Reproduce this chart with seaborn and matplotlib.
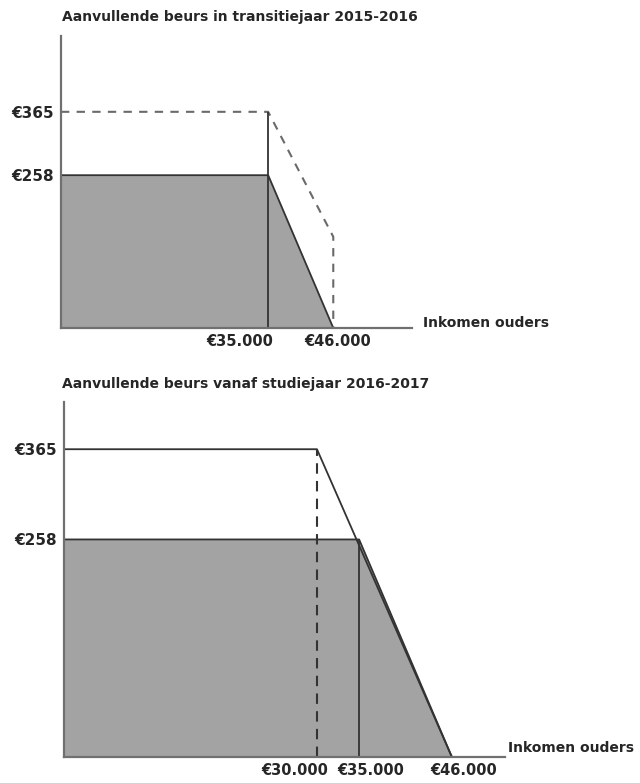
import matplotlib
matplotlib.use("Agg")
import matplotlib.pyplot as plt
import matplotlib.transforms as mtrans
import seaborn as sns

sns.set_theme(style="white")
plt.rcParams['font.family'] = ['DejaVu Sans']

# Panel 1: transitiejaar 2015-2016
titel_1 = "Aanvullende beurs in transitiejaar 2015-2016"
inkomen_1 = [0, 35000, 46000]
beurs_1 = [258, 258, 0]                 # grijze vlak
oud_inkomen_1 = [0, 35000, 46000, 46000]
oud_beurs_1 = [365, 365, 154, 0]        # gestippelde lijn
xticks_1 = [35000, 46000]

# Panel 2: vanaf studiejaar 2016-2017
titel_2 = "Aanvullende beurs vanaf studiejaar 2016-2017"
inkomen_2 = [0, 35000, 46000]
beurs_2 = [258, 258, 0]
hoog_inkomen_2 = [0, 30000, 46000]
hoog_beurs_2 = [365, 365, 0]
xticks_2 = [30000, 35000, 46000]

yticks = [258, 365]
xlabel = "Inkomen ouders"

grijs = "#a3a3a3"
lijn = "#333333"
as_kleur = "#707070"


def euro(v):
    return "€" + f"{v:,}".replace(",", ".")


def opmaak(ax, xmax, ymax, xticks, titel, label_shift, xlab_off, titel_off):
    ax.set_xlim(0, xmax)
    ax.set_ylim(0, ymax)
    sns.despine(ax=ax)
    for s in ["left", "bottom"]:
        ax.spines[s].set_color(as_kleur)
        ax.spines[s].set_linewidth(1.6)
    ax.set_xticks(xticks)
    ax.set_xticklabels([euro(v) for v in xticks], fontweight="bold", fontsize=10.5)
    ax.set_yticks(yticks)
    ax.set_yticklabels([euro(v) for v in yticks], fontweight="bold", fontsize=11)
    ax.tick_params(axis="y", length=0, pad=5)
    ax.tick_params(axis="x", length=0, pad=4)
    # labels staan in het origineel niet precies onder de lijnen
    for lab, dx in zip(ax.get_xticklabels(), label_shift):
        lab.set_transform(lab.get_transform() +
                          mtrans.ScaledTranslation(dx / 100, 0, fig.dpi_scale_trans))
    ax.set_xlabel("")
    ax.set_ylabel("")
    ax.annotate(xlabel, xy=(1, 0), xycoords="axes fraction", xytext=xlab_off,
                textcoords="offset pixels", ha="left", va="center",
                fontweight="bold", fontsize=10)
    ax.annotate(titel, xy=(0, 1), xycoords="axes fraction", xytext=titel_off,
                textcoords="offset pixels", ha="left", va="bottom",
                fontweight="bold", fontsize=10)


fig = plt.figure(figsize=(6.4, 7.83), dpi=100)

# --- bovenste grafiek ---
ax1 = fig.add_axes([61 / 640, 455 / 783, 351 / 640, 292 / 783])
ax1.fill_between(inkomen_1, beurs_1, color=grijs, lw=0)
sns.lineplot(x=inkomen_1, y=beurs_1, ax=ax1, color=lijn, lw=1.3,
             sort=False, estimator=None)
sns.lineplot(x=oud_inkomen_1, y=oud_beurs_1, ax=ax1, color="#6a6a6a", lw=1.5,
             sort=False, estimator=None, linestyle=(0, (4, 3.5)))
ax1.vlines(inkomen_1[1], 0, oud_beurs_1[1], color=lijn, lw=1.3)
opmaak(ax1, 59300, 493, xticks_1, titel_1, [-28, 4], (11, 5), (1, 12))

# --- onderste grafiek ---
ax2 = fig.add_axes([64 / 640, 26 / 783, 441 / 640, 355 / 783])
ax2.fill_between(inkomen_2, beurs_2, color=grijs, lw=0)
sns.lineplot(x=inkomen_2, y=beurs_2, ax=ax2, color=lijn, lw=1.3,
             sort=False, estimator=None)
sns.lineplot(x=hoog_inkomen_2, y=hoog_beurs_2, ax=ax2, color=lijn, lw=1.3,
             sort=False, estimator=None)
ax2.vlines(inkomen_2[1], 0, beurs_2[1], color=lijn, lw=1.3)
ax2.vlines(hoog_inkomen_2[1], 0, hoog_beurs_2[1], color=lijn, lw=1.5,
           linestyles=(0, (5, 3.5)))
opmaak(ax2, 52300, 421, xticks_2, titel_2, [-22, 12, 12], (3, 9), (-2, 11))

fig.savefig("out.png", dpi=100)
